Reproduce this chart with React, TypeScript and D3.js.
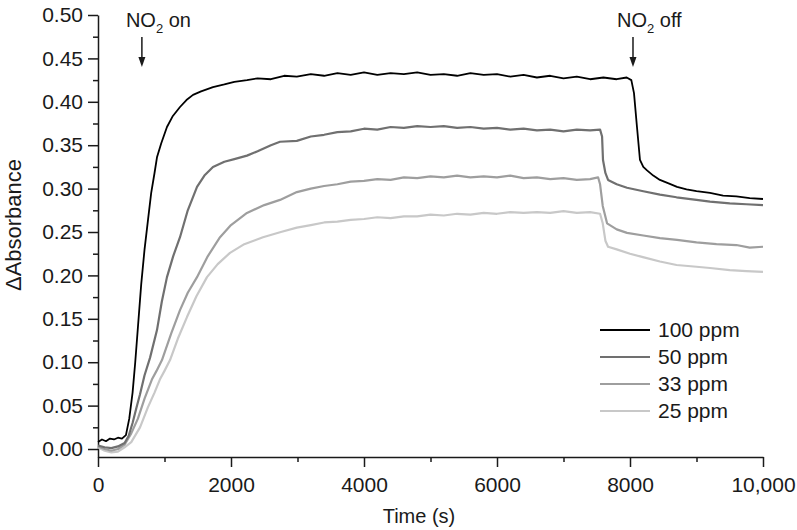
import { useEffect, useRef } from "react";
import * as d3 from "d3";

type Pt = [number, number];

// [time (s), ΔAbsorbance]
const ppm100: Pt[] = [
  [0, 0.008], [60, 0.011], [120, 0.009], [180, 0.012], [240, 0.011], [300, 0.013],
  [360, 0.012], [420, 0.016], [470, 0.035], [520, 0.065], [560, 0.1], [600, 0.14],
  [650, 0.19], [700, 0.23], [752, 0.264], [800, 0.295], [850, 0.318], [887, 0.336],
  [950, 0.352], [1037, 0.371], [1120, 0.383], [1233, 0.394], [1330, 0.402], [1429, 0.408],
  [1550, 0.412], [1729, 0.417], [1900, 0.42], [2050, 0.423], [2240, 0.425], [2400, 0.427],
  [2600, 0.426], [2800, 0.43], [2990, 0.429], [3200, 0.432], [3400, 0.43], [3600, 0.433],
  [3800, 0.431], [4000, 0.434], [4200, 0.431], [4400, 0.433], [4600, 0.432], [4800, 0.434],
  [5000, 0.431], [5200, 0.432], [5400, 0.43], [5600, 0.433], [5800, 0.431], [6000, 0.432],
  [6200, 0.429], [6400, 0.431], [6600, 0.428], [6800, 0.43], [7000, 0.427], [7200, 0.429],
  [7400, 0.426], [7600, 0.428], [7800, 0.426], [7950, 0.428], [8020, 0.425], [8060, 0.41],
  [8105, 0.371], [8150, 0.333], [8200, 0.325], [8256, 0.321], [8350, 0.315], [8450, 0.31],
  [8580, 0.306], [8707, 0.302], [8850, 0.299], [9000, 0.297], [9203, 0.295], [9400, 0.292],
  [9600, 0.291], [9800, 0.289], [10000, 0.288],
];

const ppm50: Pt[] = [
  [0, 0.004], [100, 0.002], [200, 0.001], [300, 0.003], [400, 0.007], [460, 0.015],
  [520, 0.03], [580, 0.048], [632, 0.063], [700, 0.085], [782, 0.105], [887, 0.137],
  [960, 0.17], [1037, 0.198], [1130, 0.222], [1233, 0.244], [1350, 0.275], [1489, 0.302],
  [1600, 0.315], [1729, 0.325], [1900, 0.331], [2050, 0.334], [2240, 0.338], [2400, 0.343],
  [2600, 0.35], [2737, 0.354], [2990, 0.355], [3200, 0.36], [3400, 0.362], [3600, 0.365],
  [3800, 0.366], [4000, 0.369], [4200, 0.368], [4400, 0.371], [4600, 0.37], [4800, 0.372],
  [5000, 0.371], [5200, 0.372], [5400, 0.37], [5600, 0.371], [5800, 0.369], [6000, 0.37],
  [6200, 0.368], [6400, 0.369], [6600, 0.367], [6800, 0.368], [7000, 0.366], [7200, 0.368],
  [7400, 0.367], [7550, 0.368], [7580, 0.36], [7594, 0.333], [7630, 0.318], [7670, 0.31],
  [7800, 0.305], [7955, 0.301], [8200, 0.297], [8450, 0.293], [8700, 0.29], [9000, 0.287],
  [9203, 0.285], [9500, 0.283], [9750, 0.282], [10000, 0.281],
];

const ppm33: Pt[] = [
  [0, 0.003], [100, 0.0], [200, -0.002], [300, 0.0], [400, 0.005], [500, 0.018],
  [600, 0.035], [700, 0.058], [810, 0.08], [880, 0.09], [962, 0.1025], [1100, 0.133],
  [1233, 0.16], [1350, 0.18], [1489, 0.198], [1650, 0.222], [1835, 0.244], [2000, 0.258],
  [2240, 0.272], [2500, 0.281], [2737, 0.287], [2990, 0.296], [3200, 0.3], [3400, 0.303],
  [3600, 0.305], [3800, 0.308], [4000, 0.309], [4200, 0.311], [4400, 0.31], [4600, 0.313],
  [4800, 0.312], [5000, 0.314], [5200, 0.313], [5400, 0.315], [5600, 0.313], [5800, 0.314],
  [6000, 0.313], [6200, 0.315], [6400, 0.312], [6600, 0.313], [6800, 0.311], [7000, 0.312],
  [7200, 0.31], [7400, 0.311], [7520, 0.313], [7550, 0.305], [7590, 0.28], [7655, 0.26],
  [7800, 0.253], [7955, 0.249], [8200, 0.246], [8450, 0.243], [8707, 0.241], [9000, 0.238],
  [9300, 0.236], [9600, 0.235], [9800, 0.232], [10000, 0.233],
];

const ppm25: Pt[] = [
  [0, 0.002], [100, -0.002], [200, -0.004], [300, -0.003], [400, 0.002], [500, 0.008],
  [632, 0.025], [750, 0.048], [850, 0.065], [930, 0.08], [1000, 0.09], [1083, 0.1025],
  [1200, 0.127], [1338, 0.152], [1480, 0.176], [1639, 0.198], [1800, 0.213], [1985, 0.226],
  [2200, 0.236], [2481, 0.244], [2750, 0.25], [2990, 0.255], [3200, 0.258], [3400, 0.261],
  [3600, 0.262], [3800, 0.264], [4000, 0.265], [4200, 0.267], [4400, 0.266], [4600, 0.268],
  [4800, 0.268], [5000, 0.27], [5200, 0.269], [5400, 0.271], [5600, 0.27], [5800, 0.272],
  [6000, 0.271], [6200, 0.273], [6400, 0.272], [6600, 0.273], [6800, 0.272], [7000, 0.274],
  [7200, 0.272], [7400, 0.273], [7550, 0.271], [7590, 0.26], [7630, 0.24], [7670, 0.233],
  [7800, 0.23], [8000, 0.225], [8195, 0.221], [8450, 0.216], [8700, 0.212], [9000, 0.21],
  [9203, 0.2085], [9500, 0.206], [9750, 0.205], [10000, 0.204],
];

const seriesNames = ["100 ppm", "50 ppm", "33 ppm", "25 ppm"];
const seriesData = [ppm100, ppm50, ppm33, ppm25];
const seriesColors = ["#000000", "#707070", "#9e9e9e", "#c8c8c8"];
const seriesWidths = [1.8, 2.2, 2.2, 2.2];

const xMajorTicks = [0, 2000, 4000, 6000, 8000, 10000];
const xMinorTicks = [1000, 3000, 5000, 7000, 9000];
const yMajorTicks = [0, 0.05, 0.1, 0.15, 0.2, 0.25, 0.3, 0.35, 0.4, 0.45, 0.5];
const yMinorTicks = [0.025, 0.075, 0.125, 0.175, 0.225, 0.275, 0.325, 0.375, 0.425, 0.475];

// gas switch annotations (time in s)
const markerTimes = [660, 8045];
const markerWords = ["on", "off"];

const FONT = "'Liberation Sans', Arial, Helvetica, sans-serif";
const INK = "#1a1a1a";

export default function App() {
  const ref = useRef<SVGSVGElement>(null);

  useEffect(() => {
    const el = ref.current;
    if (!el) return;
    const svg = d3.select(el);
    svg.selectAll("*").remove();

    const x = d3.scaleLinear().domain([0, 10000]).range([98, 763]);
    const y = d3.scaleLinear().domain([-0.0092, 0.5]).range([457, 15]);

    const styleAxis = (g: d3.Selection<SVGGElement, unknown, null, undefined>) => {
      g.select(".domain").attr("stroke", INK).attr("stroke-width", 1.5);
      g.selectAll(".tick line").attr("stroke", INK).attr("stroke-width", 1.5);
      g.selectAll(".tick text")
        .attr("fill", INK)
        .attr("font-family", FONT)
        .attr("font-size", 21);
    };

    // minor ticks
    svg
      .append("g")
      .attr("transform", `translate(0,${y(-0.0092)})`)
      .call(d3.axisBottom(x).tickValues(xMinorTicks).tickSize(5).tickFormat(() => ""))
      .call(styleAxis)
      .call((g) => g.select(".domain").remove());
    svg
      .append("g")
      .attr("transform", `translate(${x(0)},0)`)
      .call(d3.axisLeft(y).tickValues(yMinorTicks).tickSize(5).tickFormat(() => ""))
      .call(styleAxis)
      .call((g) => g.select(".domain").remove());

    // major axes
    svg
      .append("g")
      .attr("transform", `translate(0,${y(-0.0092)})`)
      .call(
        d3
          .axisBottom(x)
          .tickValues(xMajorTicks)
          .tickSize(10)
          .tickSizeOuter(0)
          .tickPadding(10)
          .tickFormat((d) => ((d as number) >= 10000 ? "10,000" : String(d)))
      )
      .call(styleAxis);
    svg
      .append("g")
      .attr("transform", `translate(${x(0)},0)`)
      .call(
        d3
          .axisLeft(y)
          .tickValues(yMajorTicks)
          .tickSize(10)
          .tickSizeOuter(0)
          .tickPadding(5)
          .tickFormat(d3.format(".2f"))
      )
      .call(styleAxis);

    // axis titles
    svg
      .append("text")
      .attr("x", 419)
      .attr("y", 523)
      .attr("text-anchor", "middle")
      .attr("font-family", FONT)
      .attr("font-size", 20)
      .attr("fill", INK)
      .text("Time (s)");
    svg
      .append("text")
      .attr("transform", "translate(21,225) rotate(-90)")
      .attr("text-anchor", "middle")
      .attr("font-family", FONT)
      .attr("font-size", 22)
      .attr("fill", INK)
      .text("ΔAbsorbance");

    // curves, lightest first so black sits on top
    const line = d3
      .line<Pt>()
      .x((d) => x(d[0]))
      .y((d) => y(d[1]));
    const order = [3, 2, 1, 0];
    svg
      .selectAll(".curve")
      .data(order)
      .join("path")
      .attr("class", "curve")
      .attr("d", (i) => line(seriesData[i]))
      .attr("fill", "none")
      .attr("stroke", (i) => seriesColors[i])
      .attr("stroke-width", (i) => seriesWidths[i])
      .attr("stroke-linejoin", "round");

    // NO2 on/off arrows
    markerTimes.forEach((t, i) => {
      const ax = x(t);
      const t0 = svg
        .append("text")
        .attr("x", ax - 16)
        .attr("y", 27)
        .attr("font-family", FONT)
        .attr("font-size", 20)
        .attr("fill", INK);
      t0.append("tspan").text("NO");
      t0.append("tspan").attr("font-size", 13).attr("dy", 6).text("2");
      t0.append("tspan").attr("dy", -6).text(` ${markerWords[i]}`);
      svg
        .append("line")
        .attr("x1", ax)
        .attr("x2", ax)
        .attr("y1", 37)
        .attr("y2", 60)
        .attr("stroke", INK)
        .attr("stroke-width", 1.5);
      svg
        .append("path")
        .attr("d", `M${ax - 3.5},57 L${ax + 3.5},57 L${ax},67 Z`)
        .attr("fill", INK);
    });

    // legend
    const legend = svg.append("g");
    seriesNames.forEach((name, i) => {
      const ly = 330 + i * 27;
      legend
        .append("line")
        .attr("x1", 600)
        .attr("x2", 650)
        .attr("y1", ly)
        .attr("y2", ly)
        .attr("stroke", seriesColors[i])
        .attr("stroke-width", seriesWidths[i]);
      legend
        .append("text")
        .attr("x", 658)
        .attr("y", ly)
        .attr("dy", "0.35em")
        .attr("font-family", FONT)
        .attr("font-size", 21)
        .attr("fill", INK)
        .text(name);
    });
  }, []);

  return (
    <svg
      ref={ref}
      width={797}
      height={530}
      style={{ position: "absolute", left: 0, top: 0, background: "#ffffff" }}
    />
  );
}
